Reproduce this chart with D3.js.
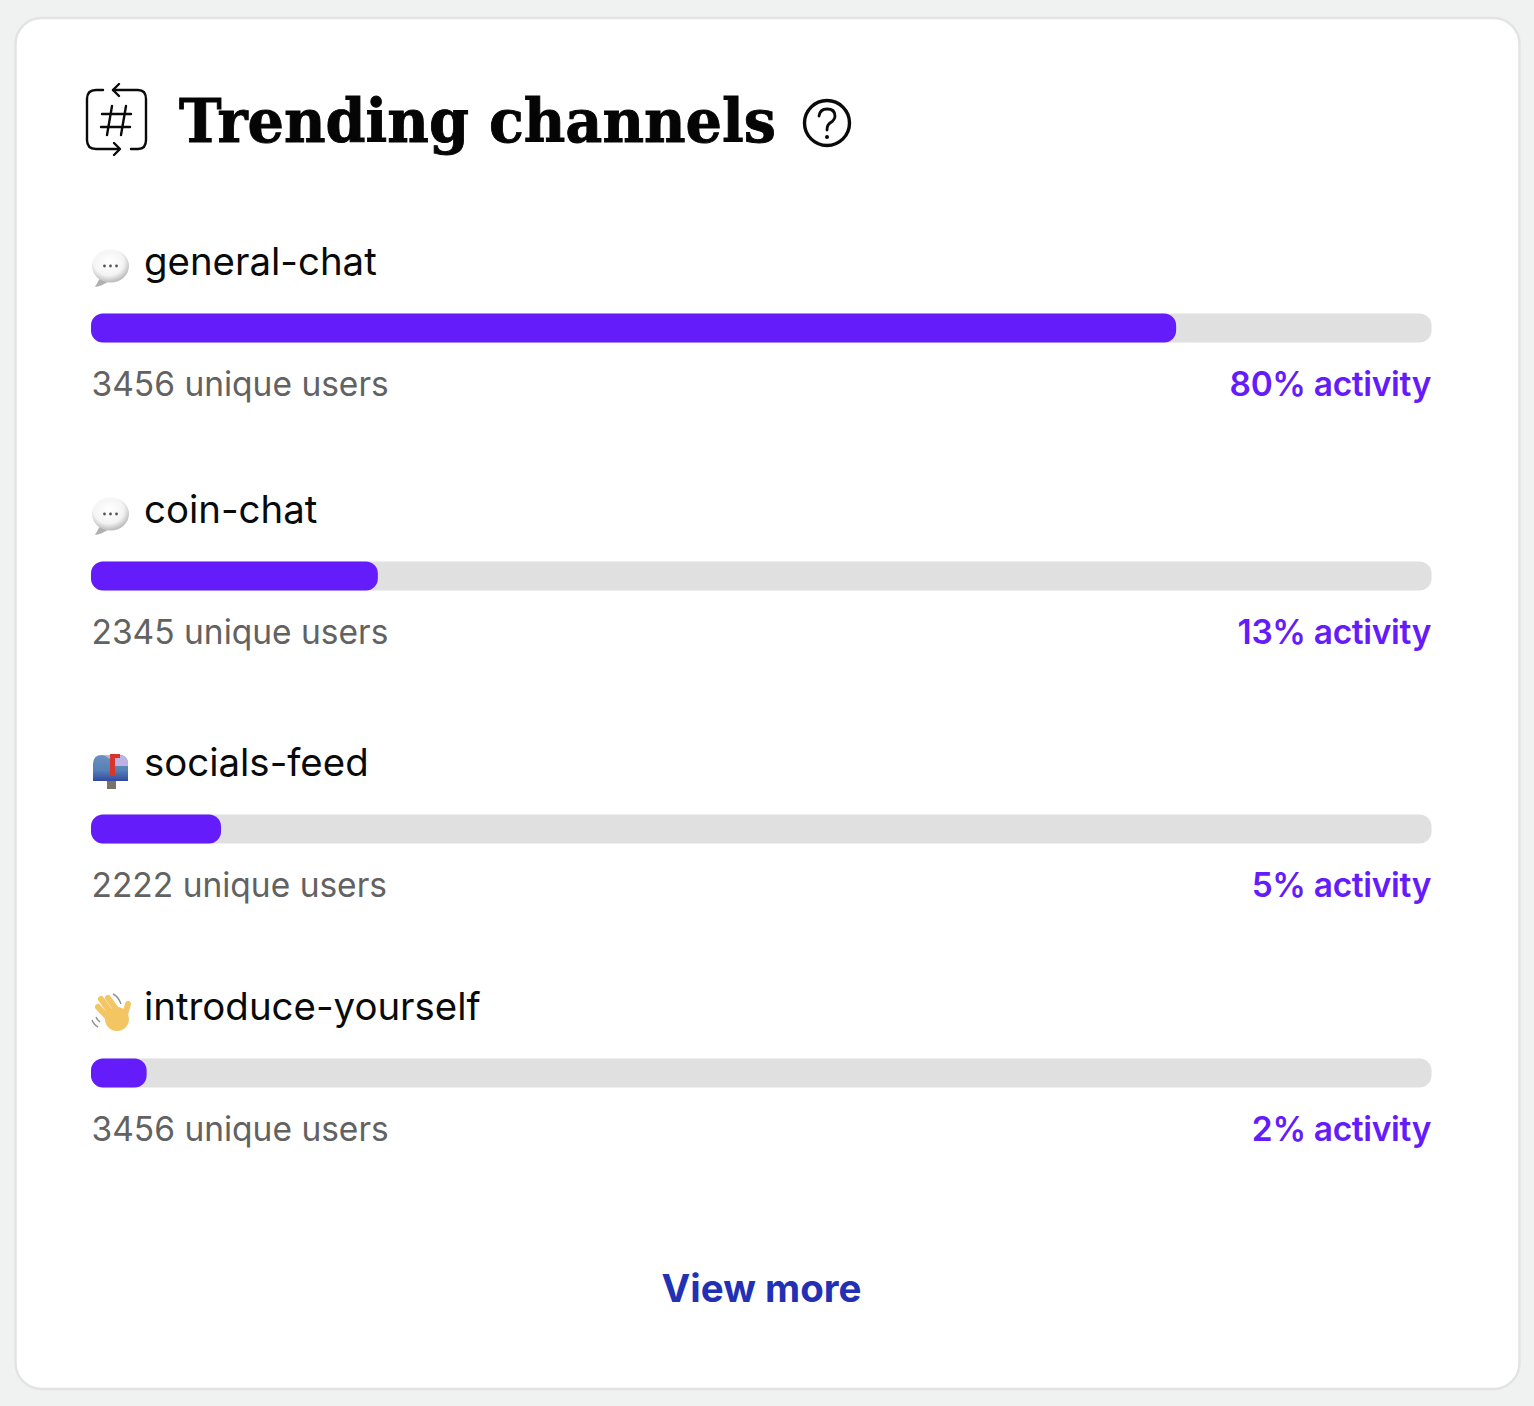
<!DOCTYPE html>
<html><head><meta charset="utf-8">
<style>html,body{margin:0;padding:0;background:#f0f2f1}svg{display:block}text{font-family:Inter,sans-serif}</style>
<script src="https://cdnjs.cloudflare.com/ajax/libs/d3/7.8.5/d3.min.js"></script>
</head><body><svg id="c" width="1534" height="1406"></svg>
<script>
const channels=["general-chat","coin-chat","socials-feed","introduce-yourself"];
const users=[3456,2345,2222,3456];
const activity=[80,13,5,2];
const barLengths=[80.95,21.4,9.7,4.15];
const icons=["bubble","bubble","mailbox","wave"];
const rowTops=[313.5,561.5,814.5,1058.5];

const svg=d3.select("#c");
const defs=svg.append("defs");
const rg=defs.append("radialGradient").attr("id","bg").attr("cx","45%").attr("cy","38%").attr("r","68%");
rg.append("stop").attr("offset",0).attr("stop-color","#ffffff");
rg.append("stop").attr("offset",.6).attr("stop-color","#f4f4f4");
rg.append("stop").attr("offset",1).attr("stop-color","#a8a8a8");
const mg=defs.append("linearGradient").attr("id","mb").attr("x1",0).attr("y1",0).attr("x2",0).attr("y2",1);
mg.append("stop").attr("offset",0).attr("stop-color","#6c8fc0");
mg.append("stop").attr("offset",.6).attr("stop-color","#5580b6");
mg.append("stop").attr("offset",1).attr("stop-color","#34489e");

svg.append("rect").attr("x",15.5).attr("y",18).attr("width",1504).attr("height",1371).attr("rx",26)
  .attr("fill","#fff").attr("stroke","#e2e4e3").attr("stroke-width",2.5);

const x=d3.scaleLinear().domain([0,100]).range([91,1431.5]);

// header icon
const hi=svg.append("g").attr("fill","none").attr("stroke","#0a0a0a").attr("stroke-width",2.4).attr("stroke-linecap","round").attr("stroke-linejoin","round");
["M103 90H96Q87 90 87 99V140Q87 149 96 149H119","M119 84L113 90L119 96","M114 143L120 149L114 155",
 "M131 149H138Q146 149 146 140V99Q146 90 138 90H113",
 "M112 106L107 135M126 106L121 135M102 114H131M101 127H130"].forEach(d=>hi.append("path").attr("d",d));

svg.append("text").text("Trending channels").attr("x",179).attr("y",142)
  .style("font-family","'DejaVu Serif',serif").style("font-weight",700).style("font-size","60px")
  .attr("textLength",597).attr("lengthAdjust","spacingAndGlyphs").attr("fill","#050505")
  .attr("stroke","#050505").attr("stroke-width",.9);

// help icon
const h=svg.append("g");
h.append("circle").attr("cx",827).attr("cy",123).attr("r",22.5).attr("fill","none").attr("stroke","#0a0a0a").attr("stroke-width",3.4);
h.append("path").attr("d","M819 116Q820 109 827 109Q835 109 835 116Q835 120 830 123Q827 125 827 130").attr("fill","none").attr("stroke","#0a0a0a").attr("stroke-width",2.8).attr("stroke-linecap","round");
h.append("circle").attr("cx",827).attr("cy",137).attr("r",2).attr("fill","#0a0a0a");

function bubble(g){
  g.append("path").attr("d","M100 278L95 287Q103 286 110 280Z").attr("fill","#b0b0b0");
  g.append("ellipse").attr("cx",110.5).attr("cy",266).attr("rx",18.5).attr("ry",16.5).attr("fill","url(#bg)");
  [104.5,110.5,116.5].forEach(cx=>g.append("circle").attr("cx",cx).attr("cy",266).attr("r",1.4).attr("fill","#555"));
}
function mailbox(g){
  g.append("rect").attr("x",107).attr("y",781).attr("width",9).attr("height",8).attr("fill","#77736a");
  g.append("path").attr("d","M93 781V764Q93 755 102 755H119Q128 755 128 764V781Z").attr("fill","url(#mb)");
  g.append("path").attr("d","M102 755H119Q128 755 128 764V766H114Q112 758 102 755Z").attr("fill","#bdb2e2");
  g.append("path").attr("d","M110 775V754H120V758H115V775Z").attr("fill","#d8352a");
}
function wave(g){
  const p="#f3c563";
  const fingers=[[98,1007,111,1021],[101,999,113,1016],[108,998,118,1012],[128,1004,124,1018]];
  fingers.forEach(f=>g.append("line").attr("x1",f[0]).attr("y1",f[1]).attr("x2",f[2]).attr("y2",f[3]).attr("stroke",p).attr("stroke-width",6).attr("stroke-linecap","round"));
  g.append("circle").attr("cx",117).attr("cy",1019).attr("r",12).attr("fill",p);
  g.append("path").attr("d","M92 1020Q94 1025 98 1027M96 1017Q97 1020 100 1022M113 994Q118 996 121 1004").attr("fill","none").attr("stroke","#8f8f8f").attr("stroke-width",1.4);
}
const draw={bubble:(g,i)=>{const s=g.append("g");bubble(s);if(i)s.attr("transform",`translate(0,${rowTops[i]-rowTops[0]})`);},mailbox,wave};

channels.forEach((c,i)=>{
  const top=rowTops[i], g=svg.append("g");
  draw[icons[i]](g,i);
  g.append("text").text(c).attr("x",144).attr("y",top-38.5).attr("fill","#0a0a0a").style("font-size","38.4px").style("font-weight",400);
  g.append("rect").attr("x",x(0)).attr("y",top).attr("width",x(100)-x(0)).attr("height",29).attr("rx",12).attr("fill","#e0e0e0");
  g.append("rect").attr("x",x(0)).attr("y",top).attr("width",x(barLengths[i])-x(0)).attr("height",29).attr("rx",12).attr("fill","#651cfb");
  g.append("text").text(users[i]+" unique users").attr("x",91.5).attr("y",top+82).attr("fill","#626262").style("font-size","33.5px");
  g.append("text").text(activity[i]+"% activity").attr("x",1431).attr("y",top+82).attr("text-anchor","end").attr("fill","#651cfb").style("font-size","33.5px").style("font-weight",600).style("letter-spacing","-0.35px");
});

svg.append("text").text("View more").attr("x",761.5).attr("y",1302).attr("text-anchor","middle").attr("fill","#2230b3").style("font-size","38.5px").style("font-weight",700);
</script></body></html>
